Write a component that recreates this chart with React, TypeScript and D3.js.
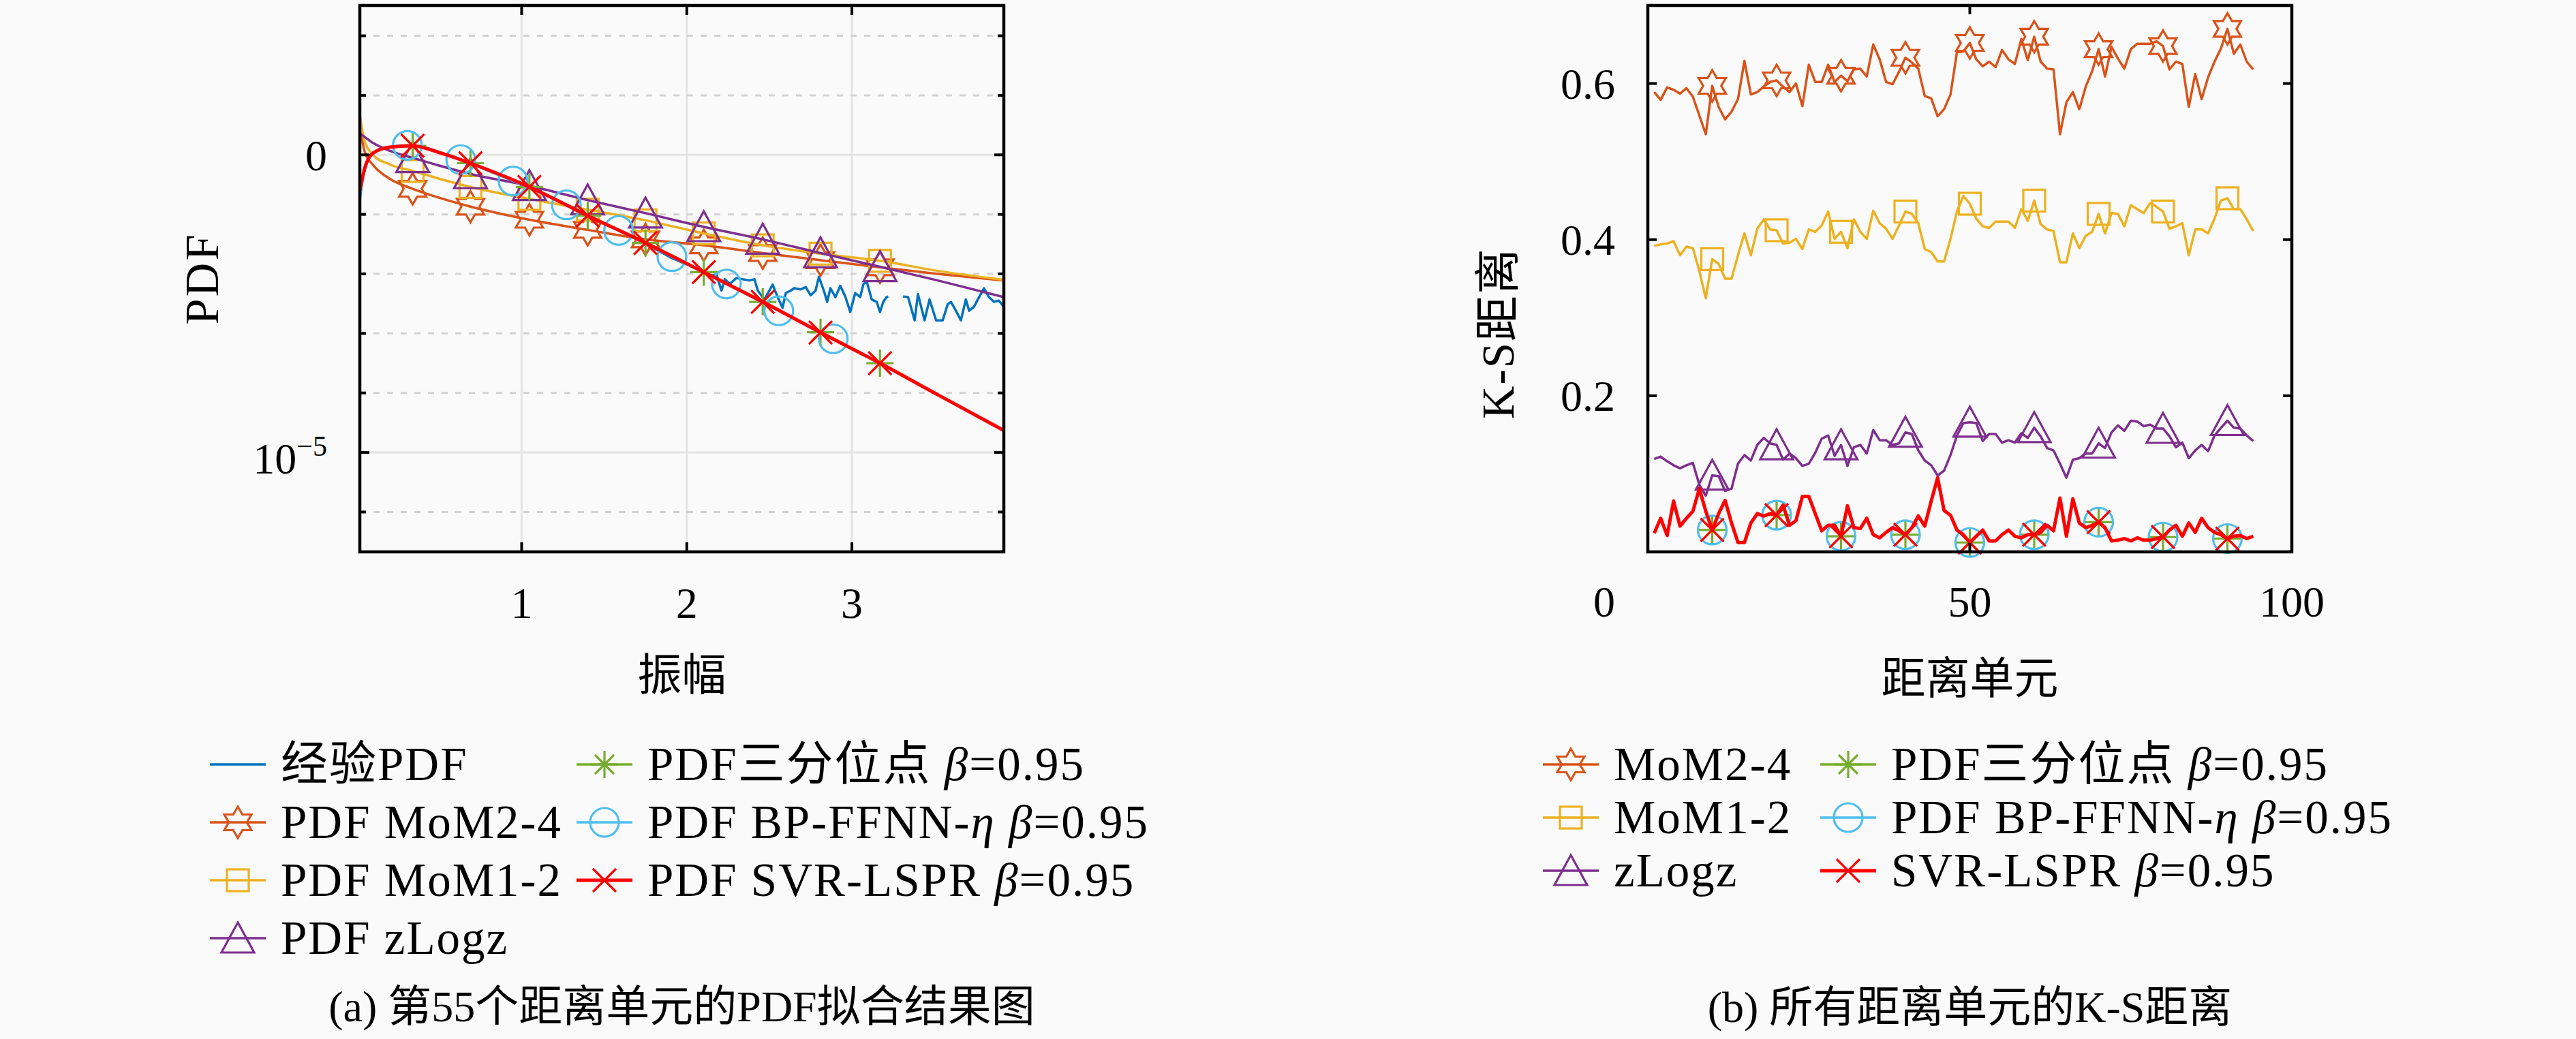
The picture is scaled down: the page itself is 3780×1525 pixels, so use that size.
import React, { useEffect, useRef } from "react";
import * as d3 from "d3";

// ---------- (a) PDF fit of range cell 55 (values are log10 of PDF) ----------
const ampTicks = [1, 2, 3];
const pdfDecades = [2, 1, 0, -1, -2, -3, -4, -5, -6];
const pdfLabelled = [0, -5];

const fitAmp = [0.02, 0.05, 0.1, 0.2, 0.34, 0.5, 0.69, 1.047, 1.4, 1.75, 2.103, 2.46, 2.81, 3.17, 3.52, 3.92];
const fitMarkerIdx = [4, 6, 7, 8, 9, 10, 11, 12, 13];
const logMoM24 = [0.45, 0.05, -0.17, -0.4, -0.57, -0.72, -0.87, -1.09, -1.26, -1.42, -1.52, -1.65, -1.77, -1.89, -2.0, -2.11];
const logMoM12 = [0.66, 0.22, 0.0, -0.16, -0.27, -0.4, -0.54, -0.74, -0.92, -1.1, -1.32, -1.52, -1.66, -1.78, -1.95, -2.1];
const logZlogz = [0.36, 0.3, 0.2, 0.07, -0.05, -0.18, -0.32, -0.52, -0.76, -0.98, -1.21, -1.42, -1.65, -1.88, -2.11, -2.39];
const logTertile = [-0.62, -0.22, 0.03, 0.13, 0.15, 0.04, -0.14, -0.54, -1.02, -1.48, -1.97, -2.47, -2.98, -3.5, -4.03, -4.63];
const logSVR = [-0.6, -0.22, 0.03, 0.13, 0.153, 0.04, -0.14, -0.54, -1.02, -1.48, -1.97, -2.47, -2.985, -3.5, -4.03, -4.63];

const bpAmp = [0.02, 0.05, 0.1, 0.2, 0.308, 0.631, 0.948, 1.271, 1.587, 1.91, 2.24, 2.557, 2.887, 3.05];
const bpLog = [-0.7, -0.25, 0.02, 0.13, 0.16, -0.08, -0.44, -0.84, -1.27, -1.71, -2.17, -2.62, -3.09, -3.33];
const bpMarkerIdx = [4, 5, 6, 7, 8, 9, 10, 11, 12];

// empirical histogram, null = empty bin
const empAmp = [0.02, 0.04, 0.07, 0.1, 0.15, 0.2, 0.3, 0.4, 0.5, 0.6, 0.7, 0.8, 0.9, 1.0, 1.1, 1.2, 1.3, 1.4, 1.5, 1.6,
  1.7, 1.8, 1.9, 2.0, 2.1, 2.14, 2.18, 2.21, 2.23, 2.26, 2.3, 2.34, 2.38, 2.41, 2.43, 2.47, 2.52, 2.55, 2.58, 2.6,
  2.63, 2.65, 2.69, 2.72, 2.75, 2.78, 2.8, 2.83, 2.85, 2.87, 2.9, 2.93, 2.96, 2.99, 3.02, 3.05, 3.07, 3.09, 3.12, 3.15,
  3.17, 3.19, 3.21, 3.22, 3.27, 3.31, 3.34, 3.38, 3.4, 3.44, 3.47, 3.51, 3.55, 3.58, 3.6, 3.63, 3.66, 3.69, 3.71, 3.74,
  3.77, 3.8, 3.83, 3.86, 3.89, 3.92];
const empLog = [-0.75, -0.35, -0.05, 0.04, 0.11, 0.13, 0.15, 0.14, 0.05, -0.04, -0.15, -0.27, -0.38, -0.49, -0.61, -0.74, -0.88, -1.02, -1.15, -1.29,
  -1.42, -1.57, -1.72, -1.84, -1.97, -2.03, -2.01, -2.28, -2.09, -2.17, -2.07, -2.09, -2.11, -2.09, -2.28, -2.43, -2.18, -2.39, -2.57, -2.32,
  -2.28, -2.24, -2.26, -2.22, -2.36, -2.28, -2.05, -2.28, -2.47, -2.24, -2.39, -2.2, -2.38, -2.64, -2.32, -2.39, -2.17, -2.13, -2.43, -2.47,
  -2.64, -2.47, -2.39, -2.38, null, -2.38, -2.39, -2.78, -2.34, -2.78, -2.43, -2.78, -2.78, -2.51, -2.47, -2.62, -2.78, -2.43, -2.62, -2.55,
  -2.39, -2.24, -2.39, -2.47, -2.45, -2.55];

// ---------- (b) K-S distance of all range cells ----------
const cells = d3.range(1, 95);
const cellTicks = [0, 50, 100];
const ksTicks = [0.2, 0.4, 0.6];
const ksMarkerCells = [10, 20, 30, 40, 50, 60, 70, 80, 90];

const ksMoM24 = [0.589, 0.579, 0.595, 0.592, 0.587, 0.594, 0.583, 0.559, 0.535, 0.597,
  0.57, 0.554, 0.564, 0.58, 0.629, 0.586, 0.589, 0.596, 0.602, 0.604,
  0.596, 0.589, 0.6, 0.571, 0.624, 0.602, 0.602, 0.624, 0.602, 0.61,
  0.603, 0.618, 0.619, 0.609, 0.65, 0.631, 0.602, 0.599, 0.615, 0.633,
  0.627, 0.619, 0.584, 0.581, 0.558, 0.567, 0.586, 0.64, 0.641, 0.652,
  0.631, 0.622, 0.628, 0.621, 0.643, 0.631, 0.625, 0.657, 0.63, 0.66,
  0.628, 0.619, 0.618, 0.535, 0.576, 0.589, 0.567, 0.596, 0.616, 0.644,
  0.609, 0.647, 0.632, 0.619, 0.644, 0.651, 0.651, 0.651, 0.654, 0.648,
  0.618, 0.628, 0.625, 0.57, 0.612, 0.58, 0.608, 0.628, 0.645, 0.67,
  0.638, 0.65, 0.628, 0.618];
const ksMoM12 = [0.392, 0.394, 0.395, 0.398, 0.38, 0.391, 0.389, 0.36, 0.325, 0.375,
  0.369, 0.35, 0.35, 0.38, 0.408, 0.38, 0.414, 0.426, 0.413, 0.412,
  0.395, 0.396, 0.401, 0.388, 0.413, 0.41, 0.418, 0.436, 0.401, 0.41,
  0.389, 0.426, 0.41, 0.401, 0.437, 0.421, 0.414, 0.401, 0.418, 0.436,
  0.433, 0.421, 0.388, 0.384, 0.372, 0.372, 0.401, 0.436, 0.456, 0.446,
  0.427, 0.417, 0.415, 0.423, 0.423, 0.423, 0.415, 0.439, 0.424, 0.45,
  0.42, 0.413, 0.411, 0.371, 0.371, 0.408, 0.389, 0.405, 0.41, 0.433,
  0.408, 0.434, 0.433, 0.417, 0.444, 0.439, 0.434, 0.447, 0.442, 0.436,
  0.414, 0.417, 0.421, 0.38, 0.413, 0.413, 0.408, 0.427, 0.45, 0.453,
  0.439, 0.439, 0.426, 0.411];
const ksZlogz = [0.119, 0.122, 0.116, 0.111, 0.107, 0.111, 0.114, 0.086, 0.072, 0.098,
  0.097, 0.078, 0.081, 0.113, 0.124, 0.117, 0.137, 0.146, 0.139, 0.137,
  0.118, 0.126, 0.12, 0.11, 0.113, 0.127, 0.145, 0.149, 0.123, 0.137,
  0.11, 0.134, 0.137, 0.126, 0.156, 0.143, 0.143, 0.137, 0.139, 0.153,
  0.151, 0.13, 0.117, 0.111, 0.098, 0.104, 0.124, 0.149, 0.165, 0.166,
  0.165, 0.142, 0.151, 0.151, 0.14, 0.143, 0.14, 0.152, 0.146, 0.159,
  0.148, 0.133, 0.13, 0.113, 0.095, 0.118, 0.12, 0.126, 0.126, 0.139,
  0.133, 0.153, 0.162, 0.155, 0.168, 0.167, 0.161, 0.163, 0.158, 0.158,
  0.148, 0.134, 0.14, 0.12, 0.13, 0.137, 0.129, 0.149, 0.159, 0.168,
  0.159, 0.158, 0.149, 0.142];
const ksTertile = [0.024, 0.043, 0.021, 0.065, 0.033, 0.043, 0.052, 0.081, 0.052, 0.028,
  0.049, 0.066, 0.037, 0.012, 0.012, 0.037, 0.049, 0.046, 0.049, 0.047,
  0.06, 0.034, 0.04, 0.071, 0.071, 0.049, 0.027, 0.034, 0.034, 0.02,
  0.059, 0.031, 0.03, 0.043, 0.022, 0.018, 0.025, 0.031, 0.027, 0.022,
  0.031, 0.046, 0.033, 0.065, 0.095, 0.053, 0.047, 0.028, 0.022, 0.012,
  0.02, 0.028, 0.014, 0.014, 0.022, 0.028, 0.02, 0.018, 0.022, 0.022,
  0.025, 0.034, 0.027, 0.069, 0.02, 0.068, 0.037, 0.031, 0.034, 0.038,
  0.031, 0.014, 0.015, 0.017, 0.014, 0.018, 0.015, 0.015, 0.017, 0.019,
  0.028, 0.034, 0.02, 0.037, 0.025, 0.043, 0.031, 0.025, 0.022, 0.017,
  0.02, 0.021, 0.017, 0.02];
const ksBP = [0.024, 0.043, 0.021, 0.065, 0.033, 0.043, 0.052, 0.081, 0.052, 0.028,
  0.049, 0.066, 0.037, 0.012, 0.012, 0.037, 0.049, 0.046, 0.049, 0.047,
  0.06, 0.034, 0.04, 0.071, 0.071, 0.049, 0.027, 0.034, 0.034, 0.02,
  0.059, 0.031, 0.03, 0.043, 0.022, 0.018, 0.025, 0.031, 0.027, 0.022,
  0.031, 0.046, 0.033, 0.065, 0.095, 0.053, 0.047, 0.028, 0.022, 0.012,
  0.02, 0.028, 0.014, 0.014, 0.022, 0.028, 0.02, 0.018, 0.022, 0.022,
  0.025, 0.034, 0.027, 0.069, 0.02, 0.068, 0.037, 0.031, 0.034, 0.038,
  0.031, 0.014, 0.015, 0.017, 0.014, 0.018, 0.015, 0.015, 0.017, 0.019,
  0.028, 0.034, 0.02, 0.037, 0.025, 0.043, 0.031, 0.025, 0.022, 0.017,
  0.02, 0.021, 0.017, 0.02];
const ksSVR = [0.024, 0.043, 0.021, 0.065, 0.033, 0.043, 0.052, 0.081, 0.052, 0.028,
  0.049, 0.066, 0.037, 0.012, 0.012, 0.037, 0.049, 0.046, 0.049, 0.047,
  0.06, 0.034, 0.04, 0.071, 0.071, 0.049, 0.027, 0.034, 0.034, 0.02,
  0.059, 0.031, 0.03, 0.043, 0.022, 0.018, 0.025, 0.031, 0.027, 0.022,
  0.031, 0.046, 0.033, 0.065, 0.095, 0.053, 0.047, 0.028, 0.022, 0.012,
  0.02, 0.028, 0.014, 0.014, 0.022, 0.028, 0.02, 0.018, 0.022, 0.022,
  0.025, 0.034, 0.027, 0.069, 0.02, 0.068, 0.037, 0.031, 0.034, 0.038,
  0.031, 0.014, 0.015, 0.017, 0.014, 0.018, 0.015, 0.015, 0.017, 0.019,
  0.028, 0.034, 0.02, 0.037, 0.025, 0.043, 0.031, 0.025, 0.022, 0.017,
  0.02, 0.021, 0.017, 0.02];

// legend texts
const legendKeysA = ["emp", "mom24", "mom12", "zlogz", "tertile", "bp", "svr"];
const legendLabelsA = ["经验PDF", "PDF MoM2-4", "PDF MoM1-2", "PDF zLogz", "PDF三分位点 β=0.95", "PDF BP-FFNN-η β=0.95", "PDF SVR-LSPR β=0.95"];
const legendKeysB = ["mom24", "mom12", "zlogz", "tertile", "bp", "svr"];
const legendLabelsB = ["MoM2-4", "MoM1-2", "zLogz", "PDF三分位点 β=0.95", "PDF BP-FFNN-η β=0.95", "SVR-LSPR β=0.95"];

const captionA = "(a) 第55个距离单元的PDF拟合结果图";
const captionB = "(b) 所有距离单元的K-S距离";

// ---------- styling ----------
const W = 3780;
const H = 1525;
const FONT = "'Liberation Serif', 'Noto Sans CJK SC', serif";
const BG = "#fafafa";

const STYLE: Record<string, { color: string; marker: string | null; width: number }> = {
  emp: { color: "#0072BD", marker: null, width: 3.5 },
  mom24: { color: "#D95319", marker: "hexagram", width: 3.5 },
  mom12: { color: "#EDB120", marker: "square", width: 3.5 },
  zlogz: { color: "#7E2F8E", marker: "triangle", width: 3.5 },
  tertile: { color: "#77AC30", marker: "asterisk", width: 3.5 },
  bp: { color: "#4DBEEE", marker: "circle", width: 3.5 },
  svr: { color: "#FF0000", marker: "x", width: 5 },
};

const boxA = { left: 528, right: 1473, top: 8, bottom: 810 };
const boxB = { left: 2418, right: 3363, top: 8, bottom: 810 };

type Sel = d3.Selection<any, unknown, null, undefined>;

function hexagramPath(R: number) {
  const r = R / Math.sqrt(3);
  const pts: [number, number][] = [];
  for (let i = 0; i < 12; i++) {
    const a = (-90 + i * 30) * Math.PI / 180;
    const rad = i % 2 === 0 ? R : r;
    pts.push([rad * Math.cos(a), rad * Math.sin(a)]);
  }
  return "M" + pts.map(p => p.join(",")).join("L") + "Z";
}

function drawMarker(g: Sel, kind: string | null, cx: number, cy: number, color: string) {
  if (!kind) return;
  const m = g.append("g").attr("transform", `translate(${cx},${cy})`)
    .attr("fill", "none").attr("stroke", color).attr("stroke-width", 3.2);
  if (kind === "hexagram") {
    m.append("path").attr("d", hexagramPath(23));
  } else if (kind === "square") {
    m.append("rect").attr("x", -16).attr("y", -16).attr("width", 32).attr("height", 32);
  } else if (kind === "triangle") {
    m.append("path").attr("d", "M0,-23L24,21L-24,21Z");
  } else if (kind === "circle") {
    m.append("circle").attr("r", 21);
  } else if (kind === "x") {
    m.append("path").attr("d", "M-17,-17L17,17M-17,17L17,-17");
  } else if (kind === "asterisk") {
    m.append("path").attr("d", "M-20,0L20,0M0,-20L0,20M-14,-14L14,14M-14,14L14,-14");
  }
}

function richText(t: Sel, label: string) {
  label.split(/([βη])/).filter(s => s.length > 0).forEach(s => {
    const sp = t.append("tspan").text(s);
    if (s === "β" || s === "η") sp.attr("font-style", "italic");
  });
}

function drawLegend(svg: Sel, keys: string[], labels: string[], colX: number[], perCol: number, y0: number, dy: number) {
  const g = svg.append("g");
  keys.forEach((k, i) => {
    const col = Math.floor(i / perCol);
    const row = i % perCol;
    const x0 = colX[col];
    const yy = y0 + row * dy;
    const st = STYLE[k];
    g.append("line").attr("x1", x0).attr("x2", x0 + 82).attr("y1", yy).attr("y2", yy)
      .attr("stroke", st.color).attr("stroke-width", st.width);
    drawMarker(g, st.marker, x0 + 41, yy, st.color);
    const t = g.append("text").attr("x", x0 + 104).attr("y", yy).attr("dy", "0.34em")
      .attr("font-size", 69).attr("letter-spacing", 2).attr("font-family", FONT).attr("fill", "#000");
    richText(t, labels[i]);
  });
}

function drawPanelA(svg: Sel) {
  const x = d3.scaleLinear().domain([0.02, 3.92]).range([boxA.left, boxA.right]);
  const y = d3.scaleLog().domain([Math.pow(10, -6.67), Math.pow(10, 2.51)]).range([boxA.bottom, boxA.top]);
  const g = svg.append("g");

  // grid
  ampTicks.forEach(t => {
    g.append("line").attr("x1", x(t)).attr("x2", x(t)).attr("y1", boxA.top).attr("y2", boxA.bottom)
      .attr("stroke", "#e4e4e4").attr("stroke-width", 3);
  });
  pdfDecades.forEach(k => {
    const yy = y(Math.pow(10, k));
    const major = pdfLabelled.includes(k);
    g.append("line").attr("x1", boxA.left).attr("x2", boxA.right).attr("y1", yy).attr("y2", yy)
      .attr("stroke", major ? "#e4e4e4" : "#d2d2d2").attr("stroke-width", 3)
      .attr("stroke-dasharray", major ? null : "9 11");
  });

  svg.append("defs").append("clipPath").attr("id", "clipA").append("rect")
    .attr("x", boxA.left).attr("y", boxA.top)
    .attr("width", boxA.right - boxA.left).attr("height", boxA.bottom - boxA.top);
  const plot = g.append("g").attr("clip-path", "url(#clipA)");
  const marks = g.append("g");

  // empirical PDF
  const empPts = empAmp.map((a, i) => [a, empLog[i]] as [number, number | null]);
  const empLine = d3.line<[number, number | null]>()
    .defined(d => d[1] !== null)
    .x(d => x(d[0]))
    .y(d => y(Math.pow(10, d[1] as number)));
  plot.append("path").attr("d", empLine(empPts)).attr("fill", "none")
    .attr("stroke", STYLE.emp.color).attr("stroke-width", STYLE.emp.width).attr("stroke-linejoin", "round");

  const fitLine = d3.line<[number, number]>()
    .x(d => x(d[0]))
    .y(d => y(Math.pow(10, d[1])))
    .curve(d3.curveMonotoneX);

  const fits = [
    { key: "mom24", amp: fitAmp, vals: logMoM24, idx: fitMarkerIdx },
    { key: "mom12", amp: fitAmp, vals: logMoM12, idx: fitMarkerIdx },
    { key: "zlogz", amp: fitAmp, vals: logZlogz, idx: fitMarkerIdx },
    { key: "tertile", amp: fitAmp, vals: logTertile, idx: fitMarkerIdx },
    { key: "bp", amp: bpAmp, vals: bpLog, idx: bpMarkerIdx },
    { key: "svr", amp: fitAmp, vals: logSVR, idx: fitMarkerIdx },
  ];
  fits.forEach(f => {
    const st = STYLE[f.key];
    const pts = f.amp.map((a, i) => [a, f.vals[i]] as [number, number]);
    plot.append("path").attr("d", fitLine(pts)).attr("fill", "none")
      .attr("stroke", st.color).attr("stroke-width", st.width);
    f.idx.forEach(i => drawMarker(plot, st.marker, x(f.amp[i]), y(Math.pow(10, f.vals[i])), st.color));
  });

  // box + ticks
  marks.append("rect").attr("x", boxA.left).attr("y", boxA.top)
    .attr("width", boxA.right - boxA.left).attr("height", boxA.bottom - boxA.top)
    .attr("fill", "none").attr("stroke", "#000").attr("stroke-width", 4.5);
  ampTicks.forEach(t => {
    marks.append("line").attr("x1", x(t)).attr("x2", x(t)).attr("y1", boxA.bottom).attr("y2", boxA.bottom - 14)
      .attr("stroke", "#000").attr("stroke-width", 4);
    marks.append("line").attr("x1", x(t)).attr("x2", x(t)).attr("y1", boxA.top).attr("y2", boxA.top + 14)
      .attr("stroke", "#000").attr("stroke-width", 4);
    marks.append("text").attr("x", x(t)).attr("y", 885).attr("dy", "0.35em").attr("text-anchor", "middle")
      .attr("font-size", 64).attr("font-family", FONT).text(String(t));
  });
  pdfDecades.forEach(k => {
    const yy = y(Math.pow(10, k));
    const len = pdfLabelled.includes(k) ? 14 : 9;
    marks.append("line").attr("x1", boxA.left).attr("x2", boxA.left + len).attr("y1", yy).attr("y2", yy)
      .attr("stroke", "#000").attr("stroke-width", 4);
    marks.append("line").attr("x1", boxA.right).attr("x2", boxA.right - len).attr("y1", yy).attr("y2", yy)
      .attr("stroke", "#000").attr("stroke-width", 4);
  });
  // tick labels of the log axis
  marks.append("text").attr("x", 480).attr("y", y(1)).attr("dy", "0.35em").attr("text-anchor", "end")
    .attr("font-size", 64).attr("font-family", FONT).text("0");
  const t5 = marks.append("text").attr("x", 480).attr("y", y(Math.pow(10, -5)) + 8).attr("dy", "0.35em")
    .attr("text-anchor", "end").attr("font-size", 64).attr("font-family", FONT);
  t5.append("tspan").text("10");
  t5.append("tspan").attr("font-size", 42).attr("dy", -26).text("−5");

  // axis labels
  marks.append("text").attr("x", (boxA.left + boxA.right) / 2).attr("y", 990).attr("dy", "0.35em")
    .attr("text-anchor", "middle").attr("font-size", 65).attr("font-family", FONT).text("振幅");
  marks.append("text").attr("transform", `translate(296,${(boxA.top + boxA.bottom) / 2}) rotate(-90)`)
    .attr("dy", "0.35em").attr("text-anchor", "middle").attr("font-size", 69).attr("letter-spacing", 3)
    .attr("font-family", FONT).text("PDF");
}

function drawPanelB(svg: Sel) {
  const x = d3.scaleLinear().domain([0, 100]).range([boxB.left, boxB.right]);
  const y = d3.scaleLinear().domain([0, 0.7]).range([boxB.bottom, boxB.top]);
  const g = svg.append("g");

  const series = [
    { key: "mom24", vals: ksMoM24 },
    { key: "mom12", vals: ksMoM12 },
    { key: "zlogz", vals: ksZlogz },
    { key: "tertile", vals: ksTertile },
    { key: "bp", vals: ksBP },
    { key: "svr", vals: ksSVR },
  ];
  const line = d3.line<number>().x((_, i) => x(cells[i])).y(d => y(d));
  series.forEach(s => {
    const st = STYLE[s.key];
    g.append("path").attr("d", line(s.vals)).attr("fill", "none")
      .attr("stroke", st.color).attr("stroke-width", st.width).attr("stroke-linejoin", "round");
    ksMarkerCells.forEach(c => {
      const i = cells.indexOf(c);
      drawMarker(g, st.marker, x(c), y(s.vals[i]), st.color);
    });
  });

  g.append("rect").attr("x", boxB.left).attr("y", boxB.top)
    .attr("width", boxB.right - boxB.left).attr("height", boxB.bottom - boxB.top)
    .attr("fill", "none").attr("stroke", "#000").attr("stroke-width", 4.5);

  cellTicks.forEach(t => {
    g.append("line").attr("x1", x(t)).attr("x2", x(t)).attr("y1", boxB.bottom).attr("y2", boxB.bottom - 13)
      .attr("stroke", "#000").attr("stroke-width", 4);
    g.append("line").attr("x1", x(t)).attr("x2", x(t)).attr("y1", boxB.top).attr("y2", boxB.top + 13)
      .attr("stroke", "#000").attr("stroke-width", 4);
    g.append("text").attr("x", x(t)).attr("dx", t === 0 ? -64 : 0).attr("y", 883).attr("dy", "0.35em")
      .attr("text-anchor", "middle").attr("font-size", 64).attr("font-family", FONT).text(String(t));
  });
  ksTicks.forEach(t => {
    g.append("line").attr("x1", boxB.left).attr("x2", boxB.left + 13).attr("y1", y(t)).attr("y2", y(t))
      .attr("stroke", "#000").attr("stroke-width", 4);
    g.append("line").attr("x1", boxB.right).attr("x2", boxB.right - 13).attr("y1", y(t)).attr("y2", y(t))
      .attr("stroke", "#000").attr("stroke-width", 4);
    g.append("text").attr("x", 2370).attr("y", y(t)).attr("dy", "0.35em").attr("text-anchor", "end")
      .attr("font-size", 64).attr("font-family", FONT).text(t.toFixed(1));
  });

  g.append("text").attr("x", (boxB.left + boxB.right) / 2).attr("y", 995).attr("dy", "0.35em")
    .attr("text-anchor", "middle").attr("font-size", 65).attr("font-family", FONT).text("距离单元");
  g.append("text").attr("transform", "translate(2198,489) rotate(-90)")
    .attr("dy", "0.35em").attr("text-anchor", "middle").attr("font-size", 67).attr("letter-spacing", 2)
    .attr("font-family", FONT).text("K-S距离");
}

export default function App() {
  const ref = useRef<SVGSVGElement>(null);

  useEffect(() => {
    if (!ref.current) return;
    const svg = d3.select(ref.current);
    svg.selectAll("*").remove();

    svg.append("rect").attr("width", W).attr("height", H).attr("fill", BG);

    drawPanelA(svg as unknown as Sel);
    drawPanelB(svg as unknown as Sel);

    drawLegend(svg as unknown as Sel, legendKeysA, legendLabelsA, [308, 846], 4, 1122, 85);
    drawLegend(svg as unknown as Sel, legendKeysB, legendLabelsB, [2264, 2671], 3, 1122, 78);

    svg.append("text").attr("x", (boxA.left + boxA.right) / 2).attr("y", 1477).attr("dy", "0.35em")
      .attr("text-anchor", "middle").attr("font-size", 64).attr("font-family", FONT).text(captionA);
    svg.append("text").attr("x", (boxB.left + boxB.right) / 2).attr("y", 1478).attr("dy", "0.35em")
      .attr("text-anchor", "middle").attr("font-size", 64).attr("font-family", FONT).text(captionB);
  }, []);

  return (
    <svg ref={ref} width={W} height={H}
      style={{ position: "absolute", left: 0, top: 0, display: "block" }} />
  );
}
